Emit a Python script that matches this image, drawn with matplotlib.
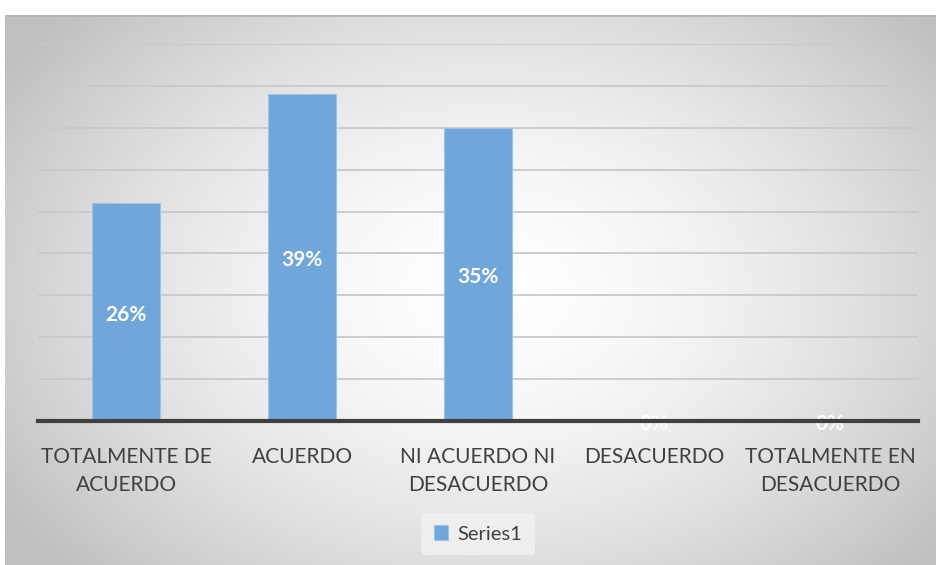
import numpy as np
import matplotlib.pyplot as plt

categories = ['TOTALMENTE DE\nACUERDO', 'ACUERDO', 'NI ACUERDO NI\nDESACUERDO',
              'DESACUERDO', 'TOTALMENTE EN\nDESACUERDO']
values = [26, 39, 35, 0, 0]
series_name = 'Series1'

plt.rcParams['font.family'] = ['Lato', 'DejaVu Sans']

fig = plt.figure(figsize=(9.36, 5.65), dpi=100)
fig.patch.set_facecolor('white')

# radial gradient background of the chart area (Excel style)
bg = fig.add_axes([5 / 936, 0, 931 / 936, 550 / 565])
yy, xx = np.mgrid[0:1:300j, 0:1:500j]
r = np.sqrt(((xx - 0.52) / 0.62) ** 2 + ((yy - 0.5) / 0.75) ** 2)
shade = 1.0 - 0.25 * np.clip(r, 0, 1) ** 1.6
bg.imshow(shade, cmap='gray', vmin=0, vmax=1, aspect='auto', extent=[0, 1, 0, 1])
bg.axhline(1, color='#b4b4b4', lw=2)
bg.set_axis_off()

ax = fig.add_axes([38 / 936, 1 - 421 / 565, 880 / 936, 377 / 565])
ax.patch.set_alpha(0)
x = np.arange(len(categories))
bars = ax.bar(x, values, width=0.39, color='#71a6da', edgecolor='#9cc3ea', linewidth=0.8, zorder=3)

for b, v in zip(bars, values):
    ax.text(b.get_x() + b.get_width() / 2, v / 2 - 0.3, f'{v}%', ha='center', va='center',
            color='white', fontsize=15, fontweight='bold', zorder=4)

ax.set_xlim(-0.5, len(categories) - 0.5)
ax.set_ylim(0, 45)
ax.set_yticks(np.arange(0, 46, 5))
ax.yaxis.grid(True, color='#c9c9c9', lw=1.3, zorder=0)
ax.tick_params(axis='y', length=0, labelleft=False)
ax.set_xticks(x)
ax.set_xticklabels(categories, fontsize=15, color='#404040', linespacing=1.5)
ax.tick_params(axis='x', length=0, pad=19)
for s in ['top', 'right', 'left']:
    ax.spines[s].set_visible(False)
ax.spines['bottom'].set_color('#404040')
ax.spines['bottom'].set_linewidth(3)
ax.spines['bottom'].set_zorder(5)

leg = fig.legend([bars[0]], [series_name], loc='center', bbox_to_anchor=(478 / 936, 1 - 534 / 565),
                 frameon=True, fontsize=14.5, handlelength=0.7, handleheight=0.7, handletextpad=0.5,
                 borderpad=0.6)
leg.get_frame().set_facecolor('#f2f2f2')
leg.get_frame().set_edgecolor('none')
for t in leg.get_texts():
    t.set_color('#404040')

fig.savefig('out.png', dpi=100)
